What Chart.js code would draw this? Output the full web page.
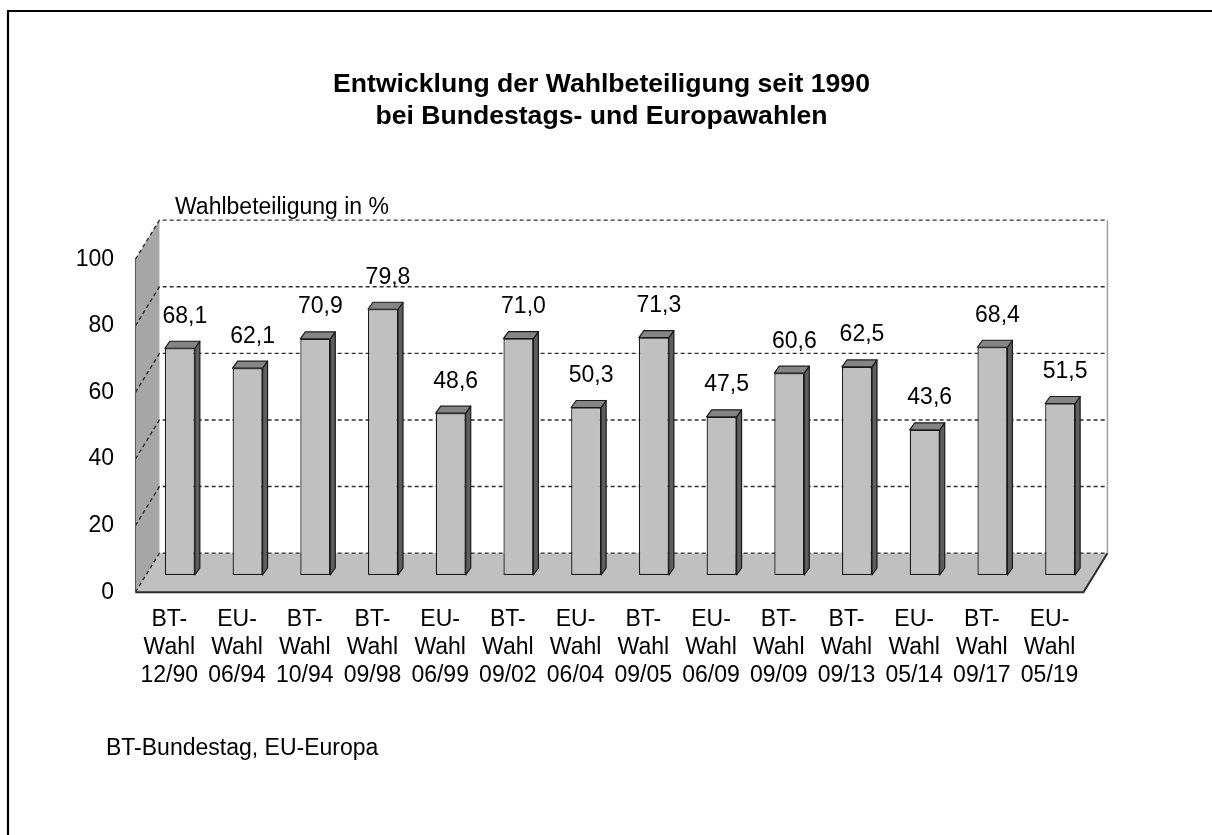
<!DOCTYPE html>
<html>
<head>
<meta charset="utf-8">
<title>Wahlbeteiligung</title>
<script src="https://cdn.jsdelivr.net/npm/chart.js@4.4.1/dist/chart.umd.min.js"></script>
<style>
    html, body { margin: 0; padding: 0; background: #fff; }
    canvas { display: block; }
</style>
</head>
<body>
<canvas id="chart" width="1212" height="835"></canvas>
<script>
    // data
    var electionTypes = ['BT', 'EU', 'BT', 'BT', 'EU', 'BT', 'EU', 'BT', 'EU', 'BT', 'BT', 'EU', 'BT', 'EU'];
    var electionDates = ['12/90', '06/94', '10/94', '09/98', '06/99', '09/02', '06/04',
        '09/05', '06/09', '09/09', '09/13', '05/14', '09/17', '05/19'];
    var turnout = [68.1, 62.1, 70.9, 79.8, 48.6, 71.0, 50.3, 71.3, 47.5, 60.6, 62.5, 43.6, 68.4, 51.5];
    var yTicks = [0, 20, 40, 60, 80, 100];

    var titleLines = ['Entwicklung der Wahlbeteiligung seit 1990', 'bei Bundestags- und Europawahlen'];
    var axisTitle = 'Wahlbeteiligung in %';
    var footnote = 'BT-Bundestag, EU-Europa';

    var FONT = "'Liberation Sans', Arial, sans-serif";

    // fake 3D: the bars stand in a plane part way into the floor
    var DEPTH_DX = 24, DEPTH_DY = -39, BAR_PLANE = 0.44;
    var BAR_DX = 5, BAR_DY = -7;

    function plane(x, y, t) {
        return [x + (t - BAR_PLANE) * DEPTH_DX, y + (t - BAR_PLANE) * DEPTH_DY];
    }

    function poly(ctx, pts) {
        ctx.beginPath();
        ctx.moveTo(pts[0][0], pts[0][1]);
        for (var i = 1; i < pts.length; i++) {
            ctx.lineTo(pts[i][0], pts[i][1]);
        }
        ctx.closePath();
    }

    var labels = electionTypes.map(function (t, i) {
        return [t + '-', 'Wahl', electionDates[i]];
    });

    var box3d = {
        id: 'box3d',
        beforeDatasetsDraw: function (ch) {
            var ctx = ch.ctx,
                a = ch.chartArea,
                ys = ch.scales.y,
                y0 = ys.getPixelForValue(0),
                y100 = ys.getPixelForValue(100),
                L = a.left,
                R = a.right;

            ctx.save();
            // left side wall
            poly(ctx, [plane(L, y0, 0), plane(L, y100, 0), plane(L, y100, 1), plane(L, y0, 1)]);
            ctx.fillStyle = '#a6a6a6';
            ctx.fill();

            // floor
            poly(ctx, [plane(L, y0, 0), plane(R, y0, 0), plane(R, y0, 1), plane(L, y0, 1)]);
            ctx.fillStyle = '#c0c0c0';
            ctx.fill();

            // back wall right edge
            var br0 = plane(R, y0, 1), br1 = plane(R, y100, 1);
            ctx.strokeStyle = '#a0a0a0';
            ctx.lineWidth = 1.5;
            ctx.beginPath();
            ctx.moveTo(br0[0], br0[1]);
            ctx.lineTo(br1[0], br1[1]);
            ctx.stroke();

            // dashed grid lines on side and back wall
            ctx.setLineDash([4, 3]);
            ctx.strokeStyle = '#2e2e2e';
            ctx.lineWidth = 1.4;
            yTicks.forEach(function (v) {
                var yv = ys.getPixelForValue(v),
                    p0 = plane(L, yv, 0), p1 = plane(L, yv, 1), p2 = plane(R, yv, 1);
                ctx.beginPath();
                ctx.moveTo(p0[0], p0[1]);
                ctx.lineTo(p1[0], p1[1]);
                ctx.lineTo(p2[0], p2[1]);
                ctx.stroke();
            });
            ctx.setLineDash([]);

            // wall front edge and floor front edge
            var f0 = plane(L, y0, 0), f1 = plane(L, y100, 0), f2 = plane(R, y0, 0);
            ctx.strokeStyle = '#555';
            ctx.lineWidth = 1;
            ctx.beginPath();
            ctx.moveTo(f0[0], f0[1]);
            ctx.lineTo(f1[0], f1[1]);
            ctx.stroke();

            ctx.strokeStyle = '#2a2a2a';
            ctx.lineWidth = 2;
            ctx.beginPath();
            ctx.moveTo(f0[0], f0[1]);
            ctx.lineTo(f2[0], f2[1]);
            ctx.lineTo(br0[0], br0[1]);
            ctx.stroke();
            ctx.restore();
        },
        afterDatasetsDraw: function (ch) {
            var ctx = ch.ctx,
                meta = ch.getDatasetMeta(0);

            ctx.save();
            ctx.strokeStyle = '#1a1a1a';
            ctx.lineWidth = 1.2;
            ctx.lineJoin = 'round';
            meta.data.forEach(function (bar, i) {
                var p = bar.getProps(['x', 'y', 'width', 'base'], true),
                    l = p.x - p.width / 2,
                    r = p.x + p.width / 2;

                // right side face
                poly(ctx, [[r, p.y], [r + BAR_DX, p.y + BAR_DY], [r + BAR_DX, p.base + BAR_DY], [r, p.base]]);
                ctx.fillStyle = '#5e5e5e';
                ctx.fill();
                ctx.stroke();

                // top face
                poly(ctx, [[l, p.y], [l + BAR_DX, p.y + BAR_DY], [r + BAR_DX, p.y + BAR_DY], [r, p.y]]);
                ctx.fillStyle = '#858585';
                ctx.fill();
                ctx.stroke();

                // value label
                ctx.fillStyle = '#000';
                ctx.font = '23px ' + FONT;
                ctx.textAlign = 'center';
                ctx.textBaseline = 'middle';
                ctx.fillText(turnout[i].toFixed(1).replace('.', ','), p.x + 5, p.y - 32);
            });
            ctx.restore();
        },
        afterDraw: function (ch) {
            var ctx = ch.ctx;

            ctx.save();
            ctx.fillStyle = '#000';
            ctx.textBaseline = 'middle';

            ctx.font = 'bold 26.6px ' + FONT;
            ctx.textAlign = 'center';
            titleLines.forEach(function (line, i) {
                ctx.fillText(line, 601.5, 85 + i * 31.5);
            });

            ctx.font = '23px ' + FONT;
            ctx.textAlign = 'left';
            ctx.fillText(axisTitle, 175, 208);
            ctx.fillText(footnote, 106, 749);

            // outer frame
            ctx.strokeStyle = '#000';
            ctx.lineWidth = 2.2;
            ctx.beginPath();
            ctx.moveTo(8, 840);
            ctx.lineTo(8, 11);
            ctx.lineTo(1215, 11);
            ctx.stroke();
            ctx.restore();
        }
    };

    new Chart(document.getElementById('chart'), {
        type: 'bar',
        data: {
            labels: labels,
            datasets: [{
                data: turnout,
                backgroundColor: '#c0c0c0',
                borderColor: '#1a1a1a',
                borderWidth: 1.3,
                borderSkipped: false,
                categoryPercentage: 1,
                barPercentage: 0.443
            }]
        },
        options: {
            responsive: false,
            animation: false,
            layout: {
                padding: {left: 46, right: 118, top: 242, bottom: 110}
            },
            plugins: {
                legend: {display: false},
                tooltip: {enabled: false},
                title: {display: false}
            },
            scales: {
                x: {
                    grid: {display: false, drawTicks: false},
                    border: {display: false},
                    ticks: {
                        color: '#000',
                        font: {family: FONT, size: 23, lineHeight: '28px'},
                        padding: 31,
                        maxRotation: 0,
                        autoSkip: false,
                        labelOffset: -BAR_PLANE * DEPTH_DX
                    },
                    afterFit: function (s) {
                        s.height = 150;
                    }
                },
                y: {
                    min: 0,
                    max: 100,
                    grid: {display: false, drawTicks: false},
                    border: {display: false},
                    ticks: {
                        stepSize: 20,
                        color: '#000',
                        font: {family: FONT, size: 23},
                        padding: 32,
                        labelOffset: -BAR_PLANE * DEPTH_DY
                    },
                    afterFit: function (s) {
                        s.width = 100;
                    }
                }
            }
        },
        plugins: [box3d]
    });
</script>
</body>
</html>
